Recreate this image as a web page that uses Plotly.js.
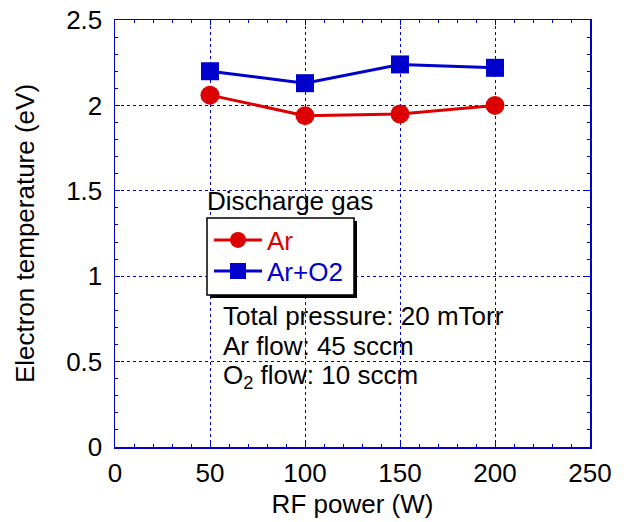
<!DOCTYPE html>
<html><head><meta charset="utf-8">
<script src="https://cdn.plot.ly/plotly-3.0.1.min.js"></script>
<style>body{margin:0;padding:0;background:#fff}#chart{width:629px;height:522px}</style>
</head><body><div id="chart"></div>
<script>
const rfPower = [50, 100, 150, 200];
const tempAr = [2.06, 1.94, 1.95, 2.00];
const tempArO2 = [2.20, 2.13, 2.24, 2.22];
const seriesNames = ['Ar', 'Ar+O2'];
const xTicks = [0, 50, 100, 150, 200, 250];
const yTicks = [0, 0.5, 1, 1.5, 2, 2.5];
const yTickText = ['0', '0.5', '1', '1.5', '2', '2.5'];

const RED = '#dd0000', BLUE = '#0000cc';
const L = 115, R = 590, T = 20, B = 447;
const px = v => (v - L) / (R - L);
const py = v => (B - v) / (B - T);
const FONT = '"Liberation Sans", Arial, sans-serif';
const FS = 26;

const traces = [
  {x: rfPower, y: tempAr, name: '<span style="color:' + RED + '">' + seriesNames[0] + '</span>',
   legend: 'legend',
   mode: 'lines+markers', line: {color: RED, width: 3},
   marker: {symbol: 'circle', size: 19, color: RED}},
  {x: rfPower, y: tempArO2, name: '<span style="color:' + BLUE + '">' + seriesNames[1] + '</span>',
   legend: 'legend2',
   mode: 'lines+markers', line: {color: BLUE, width: 3},
   marker: {symbol: 'square', size: 18, color: BLUE}}
];

const axisCommon = {
  showline: true, linecolor: BLUE, linewidth: 1.5, mirror: 'ticks',
  showgrid: true, gridcolor: BLUE, griddash: 'dot', gridwidth: 1,
  zeroline: false, ticks: 'inside', ticklen: 5, tickcolor: BLUE,
  tickfont: {family: FONT, size: FS, color: '#000'},
};

const legendCommon = {
  xanchor: 'left', yanchor: 'middle',
  bgcolor: 'rgba(0,0,0,0)', borderwidth: 0,
  font: {family: FONT, size: FS}, itemwidth: 48
};

const layout = {
  width: 629, height: 522,
  margin: {l: L, r: 629 - R, t: T, b: 522 - B},
  paper_bgcolor: '#fff', plot_bgcolor: '#fff',
  font: {family: FONT, size: FS, color: '#000'},
  xaxis: Object.assign({}, axisCommon, {
    range: [0, 250], tickvals: xTicks, ticktext: xTicks.map(String),
    minor: {ticks: 'inside', dtick: 10, ticklen: 3, tickcolor: BLUE, showgrid: false},
    ticklabelstandoff: 2,
    title: {text: 'RF power (W)', font: {family: FONT, size: FS}, standoff: 8}
  }),
  yaxis: Object.assign({}, axisCommon, {
    range: [0, 2.5], tickvals: yTicks, ticktext: yTickText,
    minor: {ticks: 'inside', dtick: 0.1, ticklen: 3, tickcolor: BLUE, showgrid: false},
    ticklabelstandoff: 6,
    title: {text: 'Electron temperature (eV)', font: {family: FONT, size: FS}, standoff: 24}
  }),
  showlegend: true,
  legend: Object.assign({}, legendCommon, {x: px(209), y: py(240)}),
  legend2: Object.assign({}, legendCommon, {x: px(209), y: py(271)}),
  shapes: [
    {type: 'rect', xref: 'paper', yref: 'paper', layer: 'above',
     x0: px(210), x1: px(357), y0: py(221), y1: py(298),
     fillcolor: '#000', line: {width: 0}},
    {type: 'rect', xref: 'paper', yref: 'paper', layer: 'above',
     x0: px(207), x1: px(354), y0: py(218), y1: py(295),
     fillcolor: '#fff', line: {color: '#000', width: 1.5}}
  ],
  annotations: [
    {text: 'Discharge gas', xref: 'paper', yref: 'paper', x: px(205), y: py(201),
     xanchor: 'left', yanchor: 'middle', showarrow: false, font: {family: FONT, size: FS}},
    {text: 'Total pressure: 20 mTorr', xref: 'paper', yref: 'paper', x: px(221), y: py(316),
     xanchor: 'left', yanchor: 'middle', showarrow: false, font: {family: FONT, size: FS}},
    {text: 'Ar flow: 45 sccm', xref: 'paper', yref: 'paper', x: px(221), y: py(346),
     xanchor: 'left', yanchor: 'middle', showarrow: false, font: {family: FONT, size: FS}},
    {text: 'O<sub>2</sub> flow: 10 sccm', xref: 'paper', yref: 'paper', x: px(221), y: py(376),
     xanchor: 'left', yanchor: 'middle', showarrow: false, font: {family: FONT, size: FS}}
  ]
};

Plotly.newPlot('chart', traces, layout, {displayModeBar: false, staticPlot: true});
</script></body></html>
